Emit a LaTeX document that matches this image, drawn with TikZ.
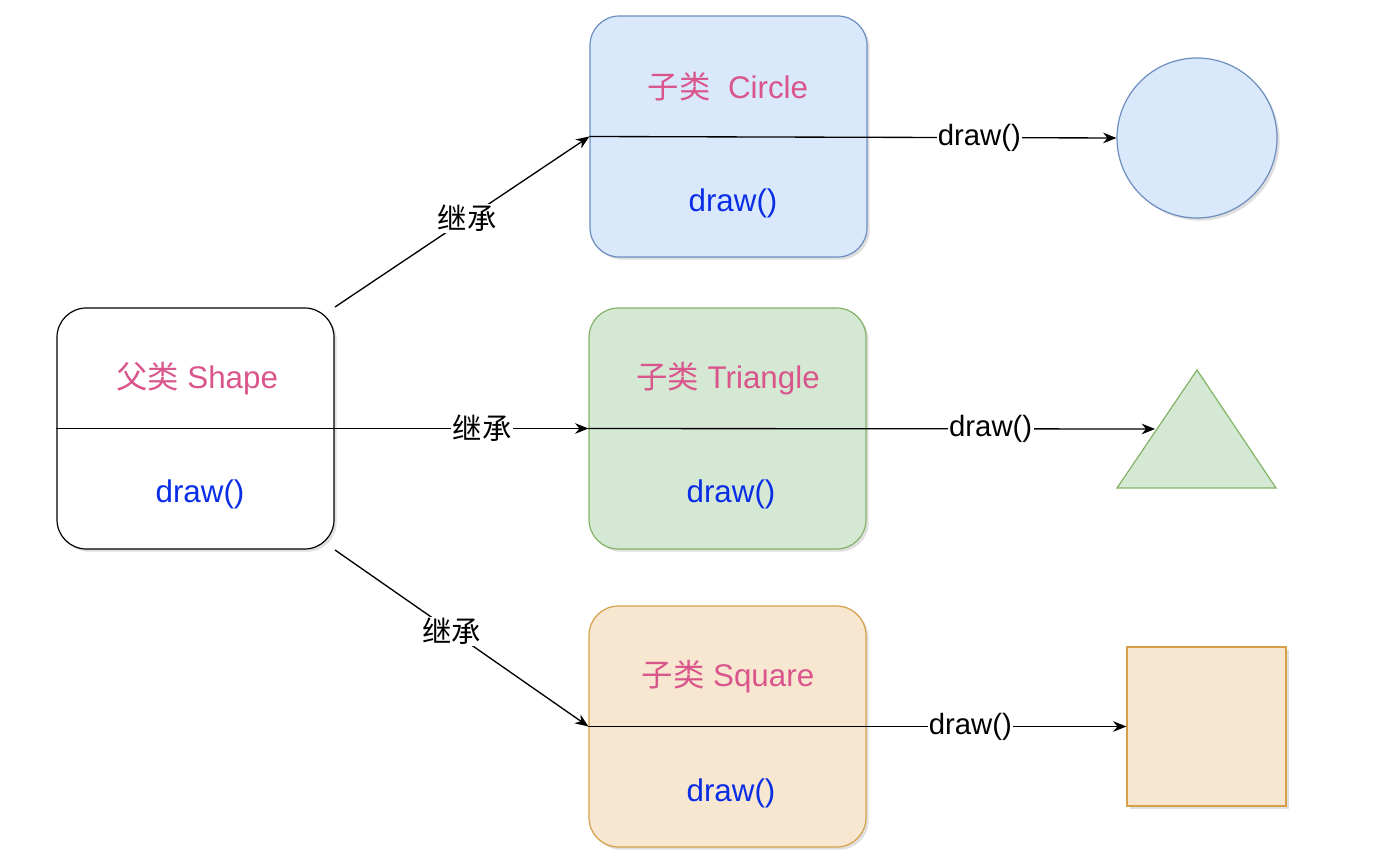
\documentclass[tikz,border=0pt]{standalone}
\usepackage{fontspec}
\setmainfont{Liberation Sans}
\newfontfamily\cjk{Noto Sans CJK SC}
\usetikzlibrary{shadows,arrows.meta}
\definecolor{pinkt}{HTML}{D9558C}
\definecolor{bluet}{HTML}{0A2EE6}
\definecolor{bfill}{HTML}{DAE8FC}
\definecolor{bline}{HTML}{6C8EBF}
\definecolor{gfill}{HTML}{D5E8D4}
\definecolor{gline}{HTML}{82B366}
\definecolor{ofill}{HTML}{F7E6D0}
\definecolor{oline}{HTML}{D6A04A}
\begin{document}
\begin{tikzpicture}[x=0.75pt,y=-0.75pt,
  shd/.style={drop shadow={opacity=0.25,shadow xshift=2pt,shadow yshift=-2pt}},
  cls/.style={draw,rounded corners=22pt,minimum width=207.75pt,minimum height=180.75pt,line width=0.9pt,shd},
  ttl/.style={text=pinkt,font=\fontsize{23.5}{26}\selectfont},
  mth/.style={text=bluet,font=\fontsize{23.5}{26}\selectfont},
  lbl/.style={fill=white,inner sep=1pt,font=\fontsize{22}{25}\selectfont},
  arr/.style={-{Stealth[length=10pt,width=8pt]},line width=1pt}]
\useasboundingbox (0,0) rectangle (1392,866);
% boxes
\node[cls,fill=white] (shape) at (195.5,428.5) {};
\node[cls,fill=bfill,draw=bline] (circbox) at (728.5,136.5) {};
\node[cls,fill=gfill,draw=gline] (tribox) at (727.5,428.5) {};
\node[cls,fill=ofill,draw=oline] (sqbox) at (727.5,726.5) {};
% texts
\node[ttl] (t0) at (197,379) {{\cjk 父类} Shape};
\node[mth] (m0) at (200,494) {draw()};
\node[ttl] (t1) at (728,87) {{\cjk 子类}\ \ Circle};
\node[mth] (m1) at (733,203) {draw()};
\node[ttl] (t2) at (728,379) {{\cjk 子类} Triangle};
\node[mth] (m2) at (731,494) {draw()};
\node[ttl] (t3) at (728,677) {{\cjk 子类} Square};
\node[mth] (m3) at (731,793) {draw()};
% shapes
\node[circle,draw=bline,fill=bfill,line width=0.9pt,minimum size=120pt,inner sep=0pt,shd] (circ) at (1197,138) {};
\coordinate (ta) at (1197,370);
\coordinate (tb) at (1276,488);
\coordinate (tc) at (1117,488);
\filldraw[draw=gline,fill=gfill,line width=0.9pt] (ta) -- (tb) -- (tc) -- cycle;
\coordinate (tri) at (1155,429);
\node[rectangle,draw=oline,fill=ofill,line width=0.9pt,minimum size=119.25pt,inner sep=0pt,shd] (sq) at (1206.5,726.5) {};
% dividers and arrows
\draw[arr] (shape.west) -- (tribox.west) node[lbl,pos=0.8] {\cjk 继承};
\draw[arr] (tribox.west) -- (tri) node[lbl,pos=0.71] {draw()};
\draw[arr] (circbox.west) -- (circ.west) node[lbl,pos=0.74] {draw()};
\draw[arr] (sqbox.west) -- (sq.west) node[lbl,pos=0.71] {draw()};
\coordinate (s1) at (335,307);
\coordinate (s2) at (335,550);
\draw[arr] (s1) -- (circbox.west) node[lbl,pos=0.52] {\cjk 继承};
\draw[arr] (s2) -- (sqbox.west) node[lbl,pos=0.46] {\cjk 继承};
\end{tikzpicture}
\end{document}
